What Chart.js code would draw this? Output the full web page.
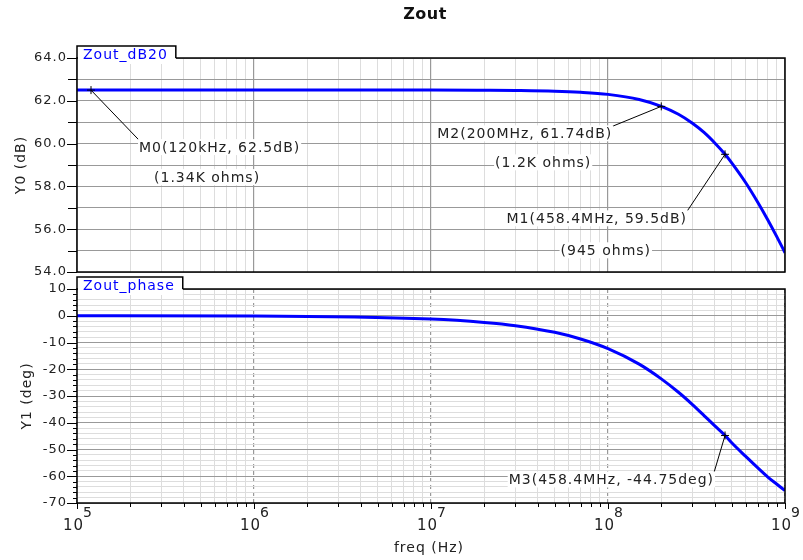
<!DOCTYPE html>
<html>
<head>
<meta charset="utf-8">
<script src="https://cdn.jsdelivr.net/npm/chart.js@4/dist/chart.umd.min.js"></script>
<style>
html,body{margin:0;padding:0;background:#fff;}
#wrap{position:relative;width:803px;height:560px;overflow:hidden;background:#fff;}
canvas{position:absolute;left:0;}
#c1{top:0;}
#c2{top:275px;}
</style>
</head>
<body>
<div id="wrap">
<canvas id="c1" width="803" height="275"></canvas>
<canvas id="c2" width="803" height="285"></canvas>
</div>
<script>
// ---------- data ----------
const freqHz    = [1e5, 1e6, 1e7, 2e7, 3e7, 5e7, 7e7, 1e8, 1.5e8, 2e8, 2.5e8, 3e8, 3.5e8, 4e8, 4.584e8, 5e8, 6e8, 7e8, 8e8, 9e8, 1e9];
const zoutDb    = [62.5, 62.5, 62.5, 62.49, 62.48, 62.45, 62.40, 62.30, 62.06, 61.74, 61.37, 60.95, 60.51, 60.04, 59.5, 59.1, 58.17, 57.27, 56.43, 55.64, 54.9];
const zoutPhase = [0, -0.1, -1.25, -2.5, -3.7, -6.2, -8.7, -12.3, -18.1, -23.6, -28.6, -33.2, -37.4, -41.1, -44.75, -47.5, -52.6, -56.8, -60.3, -63.0, -65.4];

const seriesNames = ['Zout_dB20', 'Zout_phase'];
const chartTitle = 'Zout';
const yTitles = ['Y0 (dB)', 'Y1 (deg)'];
const xTitle = 'freq (Hz)';

const xDecadeExponents = [5, 6, 7, 8, 9];
const xMinorMultipliers = [2, 3, 4, 5, 6, 7, 8, 9];
const yTopRange = [54, 64];
const yTopStep = 1;
const yBottomRange = [-70, 10];
const yBottomStep = 2;

const markerFreq  = [1.2e5, 2e8, 4.584e8, 4.584e8];
const markerValue = [62.5, 61.74, 59.5, -44.75];
const markerPanel = ['top', 'top', 'top', 'bottom'];
const markerText  = ['M0(120kHz, 62.5dB)', 'M2(200MHz, 61.74dB)', 'M1(458.4MHz, 59.5dB)', 'M3(458.4MHz, -44.75deg)'];
const markerNote  = ['(1.34K ohms)', '(1.2K ohms)', '(945 ohms)', ''];

// ---------- layout of the marker labels (pixel offsets from the marker) ----------
const labelLayout = [
  [{align: 'left', dx: 48, dy: 57}, {align: 'left', dx: 63, dy: 87}],
  [{align: 'right', dx: -49, dy: 27}, {align: 'right', dx: -70, dy: 56}],
  [{align: 'right', dx: -38, dy: 64}, {align: 'right', dx: -74, dy: 96}],
  [{align: 'right', dx: -11, dy: 44}, null]
];

const FONT = "'DejaVu Sans', sans-serif";
Chart.defaults.font.family = FONT;
Chart.defaults.color = '#222';

function isDecade(v) {
  const l = Math.log10(v);
  return Math.abs(l - Math.round(l)) < 1e-9;
}
function buildXTicks() {
  const t = [];
  xDecadeExponents.forEach((e, i) => {
    t.push({value: Math.pow(10, e), major: true});
    if (i < xDecadeExponents.length - 1) {
      xMinorMultipliers.forEach(m => t.push({value: m * Math.pow(10, e), major: false}));
    }
  });
  return t;
}
function buildYTicks(range, step) {
  const t = [];
  for (let v = range[0]; v <= range[1] + 1e-9; v += step) t.push({value: v});
  return t;
}

const panelPlugin = {
  id: 'panel',
  beforeDraw(chart) { chart.ctx.letterSpacing = '1px'; },
  afterDraw(chart, args, o) {
    const ctx = chart.ctx;
    const ca = chart.chartArea;
    const xs = chart.scales.x, ys = chart.scales.y;
    ctx.save();
    ctx.letterSpacing = '1px';
    ctx.lineWidth = 1;
    ctx.strokeStyle = '#000';
    // y tick marks
    ys.ticks.forEach(t => {
      const py = Math.round(ys.getPixelForValue(t.value)) + 0.5;
      const len = (t.label !== '' && t.label !== undefined) ? o.yMajorTick : o.yMinorTick;
      ctx.beginPath(); ctx.moveTo(ca.left - len, py); ctx.lineTo(ca.left, py); ctx.stroke();
    });
    // x axis ticks + labels
    if (o.xAxis) {
      ctx.letterSpacing = '0px';
      xs.ticks.forEach(t => {
        const px = Math.round(xs.getPixelForValue(t.value)) + 0.5;
        const dec = isDecade(t.value);
        ctx.strokeStyle = '#000';
        ctx.beginPath(); ctx.moveTo(px, ca.bottom); ctx.lineTo(px, ca.bottom + (dec ? 6 : 4)); ctx.stroke();
        if (dec) {
          const e = String(Math.round(Math.log10(t.value)));
          ctx.font = '15px ' + FONT; const wb = ctx.measureText('10').width + 1;
          ctx.font = '14px ' + FONT; const we = ctx.measureText(e).width;
          const x0 = px - (wb + we) / 2;
          ctx.fillStyle = '#222'; ctx.textAlign = 'left'; ctx.textBaseline = 'alphabetic';
          ctx.font = '15px ' + FONT; ctx.fillText('1', x0, ca.bottom + 27);
          ctx.fillText('0', x0 + ctx.measureText('1').width + 1, ca.bottom + 27);
          ctx.font = '14px ' + FONT; ctx.fillText(e, x0 + wb, ca.bottom + 14);
        }
      });
      ctx.letterSpacing = '1px';
      ctx.font = '14px ' + FONT; ctx.fillStyle = '#222';
      ctx.textAlign = 'center'; ctx.textBaseline = 'alphabetic';
      ctx.fillText(o.xTitle, (ca.left + ca.right) / 2 - 2, ca.bottom + 49);
    }
    // frame
    ctx.lineWidth = 1.5; ctx.strokeStyle = '#000';
    ctx.strokeRect(ca.left, ca.top, ca.right - ca.left, ca.bottom - ca.top);
    // tab legend
    ctx.font = '14px ' + FONT;
    const tw = ctx.measureText(o.tab).width + 14;
    ctx.fillStyle = '#fff';
    ctx.fillRect(ca.left + 1, ca.top - 12, tw - 1, 18);
    ctx.lineWidth = 1.5;
    ctx.beginPath();
    ctx.moveTo(ca.left, ca.top); ctx.lineTo(ca.left, ca.top - 12);
    ctx.lineTo(ca.left + tw, ca.top - 12); ctx.lineTo(ca.left + tw, ca.top);
    ctx.stroke();
    ctx.fillStyle = '#0000ff'; ctx.textAlign = 'left'; ctx.textBaseline = 'alphabetic';
    ctx.fillText(o.tab, ca.left + 6, ca.top + 1);
    // y title
    ctx.save();
    ctx.translate(o.yTitleX, (ca.top + ca.bottom) / 2);
    ctx.rotate(-Math.PI / 2);
    ctx.font = '14px ' + FONT; ctx.fillStyle = '#222';
    ctx.textAlign = 'center'; ctx.textBaseline = 'middle';
    ctx.fillText(o.yTitle, 0, 0);
    ctx.restore();
    // main title
    if (o.title) {
      ctx.font = 'bold 16px ' + FONT; ctx.fillStyle = '#111';
      ctx.letterSpacing = '0.5px';
      ctx.textAlign = 'center'; ctx.textBaseline = 'alphabetic';
      ctx.fillText(o.title, (ca.left + ca.right) / 2 - 6, 19);
      ctx.letterSpacing = '1px';
    }
    // markers
    markerFreq.forEach((f, i) => {
      if (markerPanel[i] !== o.panel) return;
      const px = xs.getPixelForValue(f), py = ys.getPixelForValue(markerValue[i]);
      const L = labelLayout[i];
      ctx.font = '14px ' + FONT;
      const lines = [markerText[i], markerNote[i]];
      const boxes = lines.map((txt, k) => {
        if (!txt || !L[k]) return null;
        const w = ctx.measureText(txt).width;
        const a = L[k];
        const x0 = a.align === 'left' ? px + a.dx : px + a.dx - w;
        return {txt, x0, w, cy: py + a.dy};
      });
      const b0 = boxes[0];
      const lx = L[0].align === 'left' ? b0.x0 : b0.x0 + b0.w;
      ctx.strokeStyle = '#000'; ctx.lineWidth = 1;
      ctx.beginPath(); ctx.moveTo(px, py); ctx.lineTo(lx, b0.cy - 7); ctx.stroke();
      ctx.beginPath();
      ctx.moveTo(px - 4, py); ctx.lineTo(px + 4, py);
      ctx.moveTo(px, py - 4); ctx.lineTo(px, py + 4);
      ctx.stroke();
      boxes.forEach(b => {
        if (!b) return;
        ctx.fillStyle = '#fff';
        ctx.fillRect(b.x0 - 1, b.cy - 8, b.w + 2, 16);
        ctx.fillStyle = '#222'; ctx.textAlign = 'left'; ctx.textBaseline = 'middle';
        ctx.fillText(b.txt, b.x0, b.cy + 1);
      });
    });
    ctx.restore();
  }
};

function xScale(heightFit, dashedMajors) {
  return {
    type: 'logarithmic',
    min: Math.pow(10, xDecadeExponents[0]),
    max: Math.pow(10, xDecadeExponents[xDecadeExponents.length - 1]),
    afterBuildTicks: s => { s.ticks = buildXTicks(); },
    afterFit: s => { s.height = heightFit; s.paddingLeft = 0; s.paddingRight = 0; s.paddingTop = 0; s.paddingBottom = 0; },
    ticks: {display: false, autoSkip: false},
    grid: {
      drawTicks: false,
      color: c => (c.tick && isDecade(c.tick.value)) ? '#999999' : '#dddddd',
      lineWidth: c => (c.tick && isDecade(c.tick.value)) ? 1.2 : 1
    },
    border: {
      display: false,
      dash: c => (dashedMajors && c.tick && isDecade(c.tick.value)) ? [4, 3] : []
    }
  };
}
function yFit(s) { s.width = 77; s.paddingTop = 0; s.paddingBottom = 0; s.paddingLeft = 0; s.paddingRight = 0; }

// ---------- top chart ----------
new Chart(document.getElementById('c1'), {
  type: 'line',
  data: {
    datasets: [{
      label: seriesNames[0],
      data: freqHz.map((f, i) => ({x: f, y: zoutDb[i]})),
      borderColor: '#0000ff', borderWidth: 3, pointRadius: 0,
      cubicInterpolationMode: 'monotone', fill: false
    }]
  },
  options: {
    responsive: false, animation: false, devicePixelRatio: 1,
    layout: {padding: {top: 58, right: 18, bottom: 3, left: 0}},
    plugins: {
      legend: {display: false}, tooltip: {enabled: false}, title: {display: false},
      panel: {panel: 'top', tab: seriesNames[0], yTitle: yTitles[0], yTitleX: 21, title: chartTitle,
              xAxis: false, yMajorTick: 10, yMinorTick: 9}
    },
    scales: {
      x: xScale(0, false),
      y: {
        min: yTopRange[0], max: yTopRange[1],
        afterBuildTicks: s => { s.ticks = buildYTicks(yTopRange, yTopStep); },
        afterFit: yFit,
        ticks: {autoSkip: false, padding: 10, font: {size: 13}, color: '#222',
                callback: v => (Math.round(v) % 2 === 0) ? Number(v).toFixed(1) : ''},
        grid: {drawTicks: false, color: '#999999', lineWidth: 1},
        border: {display: false}
      }
    }
  },
  plugins: [panelPlugin]
});

// ---------- bottom chart ----------
new Chart(document.getElementById('c2'), {
  type: 'line',
  data: {
    datasets: [{
      label: seriesNames[1],
      data: freqHz.map((f, i) => ({x: f, y: zoutPhase[i]})),
      borderColor: '#0000ff', borderWidth: 3, pointRadius: 0,
      cubicInterpolationMode: 'monotone', fill: false
    }]
  },
  options: {
    responsive: false, animation: false, devicePixelRatio: 1,
    layout: {padding: {top: 14, right: 18, bottom: 0, left: 0}},
    plugins: {
      legend: {display: false}, tooltip: {enabled: false}, title: {display: false},
      panel: {panel: 'bottom', tab: seriesNames[1], yTitle: yTitles[1], yTitleX: 27,
              xAxis: true, xTitle: xTitle, yMajorTick: 10, yMinorTick: 4}
    },
    scales: {
      x: xScale(57, true),
      y: {
        min: yBottomRange[0], max: yBottomRange[1],
        afterBuildTicks: s => { s.ticks = buildYTicks(yBottomRange, yBottomStep); },
        afterFit: yFit,
        ticks: {autoSkip: false, padding: 10, font: {size: 13}, color: '#222',
                callback: v => (Math.round(v) % 10 === 0) ? String(Math.round(v)) : ''},
        grid: {
          drawTicks: false,
          color: c => (c.tick && Math.round(c.tick.value) % 10 === 0) ? '#999999' : '#dddddd',
          lineWidth: 1
        },
        border: {display: false}
      }
    }
  },
  plugins: [panelPlugin]
});
</script>
</body>
</html>
